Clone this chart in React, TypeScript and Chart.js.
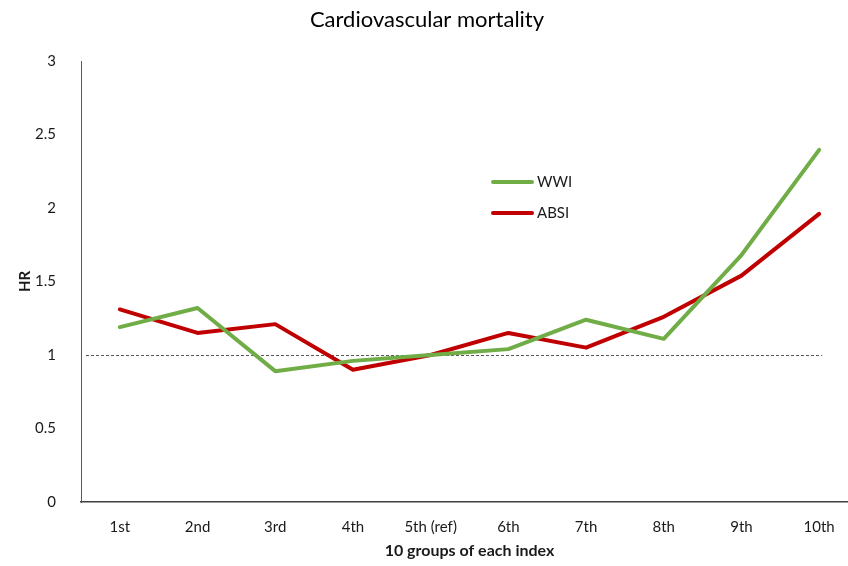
import React, { useEffect, useRef } from "react";
import { Chart, registerables } from "chart.js";

Chart.register(...registerables);

const categories = ["1st", "2nd", "3rd", "4th", "5th (ref)", "6th", "7th", "8th", "9th", "10th"];
const wwi = [1.19, 1.32, 0.89, 0.96, 1.0, 1.04, 1.24, 1.11, 1.68, 2.395];
const absi = [1.31, 1.15, 1.21, 0.9, 1.0, 1.15, 1.05, 1.26, 1.54, 1.96];
const refLine = 1;
const titleText = "Cardiovascular mortality";
const xTitle = "10 groups of each index";
const yTitle = "HR";

const FONT = "Lato, 'Open Sans', sans-serif";

const overlay = {
  id: "overlay",
  beforeDatasetsDraw(chart: any) {
    const { ctx, chartArea, scales } = chart;
    const y = scales.y.getPixelForValue(refLine);
    const xEnd = scales.x.getPixelForValue(categories.length - 1) + 3;
    ctx.save();
    ctx.strokeStyle = "#595959";
    ctx.lineWidth = 1;
    ctx.setLineDash([3, 2]);
    ctx.beginPath();
    ctx.moveTo(chartArea.left + 5, Math.round(y) + 0.5);
    ctx.lineTo(xEnd, Math.round(y) + 0.5);
    ctx.stroke();
    ctx.restore();
  },
  afterDraw(chart: any) {
    const { ctx, chartArea } = chart;
    ctx.save();
    ctx.fillStyle = "#000";
    ctx.font = `22px ${FONT}`;
    ctx.textAlign = "center";
    ctx.textBaseline = "middle";
    ctx.fillText(titleText, 427, 20);
    // legend
    const lx = chartArea.left + 412;
    const items = [
      { label: "WWI", color: "#70AD47", y: chartArea.top + 121 },
      { label: "ABSI", color: "#C00000", y: chartArea.top + 152 },
    ];
    ctx.font = `15px ${FONT}`;
    ctx.textAlign = "left";
    for (const it of items) {
      ctx.strokeStyle = it.color;
      ctx.lineWidth = 4;
      ctx.lineCap = "round";
      ctx.beginPath();
      ctx.moveTo(lx, it.y);
      ctx.lineTo(lx + 39, it.y);
      ctx.stroke();
      ctx.fillStyle = "#1a1a1a";
      ctx.fillText(it.label, lx + 44, it.y);
    }
    ctx.restore();
  },
};

export default function App() {
  const ref = useRef<HTMLCanvasElement>(null);
  useEffect(() => {
    const chart = new Chart(ref.current!, {
      type: "line",
      data: {
        labels: categories,
        datasets: [
          { label: "WWI", data: wwi, borderColor: "#70AD47", borderWidth: 4, pointRadius: 0, tension: 0, borderCapStyle: "round", borderJoinStyle: "round" },
          { label: "ABSI", data: absi, borderColor: "#C00000", borderWidth: 4, pointRadius: 0, tension: 0, borderCapStyle: "round", borderJoinStyle: "round" },
        ],
      },
      options: {
        responsive: false,
        animation: false,
        layout: { padding: { top: 61, right: 12, left: 0, bottom: 0 } },
        plugins: { legend: { display: false }, title: { display: false }, tooltip: { enabled: false } },
        scales: {
          x: {
            offset: true,
            grid: { display: false },
            border: { display: true, color: "#404040", width: 1.5 },
            ticks: { color: "#1a1a1a", font: { family: FONT, size: 15 }, padding: 8, maxRotation: 0, autoSkip: false },
            title: { display: true, text: xTitle, color: "#1a1a1a", font: { family: FONT, size: 16, weight: "bold" }, padding: { top: 4, bottom: 6 } },
            afterFit: (s: any) => { s.height = 64; },
          },
          y: {
            min: 0,
            max: 3,
            grid: { display: false },
            border: { display: true, color: "#595959", width: 1 },
            ticks: { stepSize: 0.5, color: "#1a1a1a", font: { family: FONT, size: 15 }, padding: 17, callback: (v: any) => String(v) },
            title: { display: true, text: yTitle, color: "#1a1a1a", font: { family: FONT, size: 15, weight: "bold" }, padding: { top: 16, bottom: 0 } },
            afterFit: (s: any) => { s.width = 81; },
          },
        },
      } as any,
      plugins: [overlay],
    });
    return () => chart.destroy();
  }, []);
  return (
    <div style={{ position: "fixed", left: 0, top: 0, width: 848, height: 566, overflow: "hidden", background: "#fff" }}>
      <canvas ref={ref} width={870} height={566} style={{ width: 870, height: 566, display: "block" }} />
    </div>
  );
}
